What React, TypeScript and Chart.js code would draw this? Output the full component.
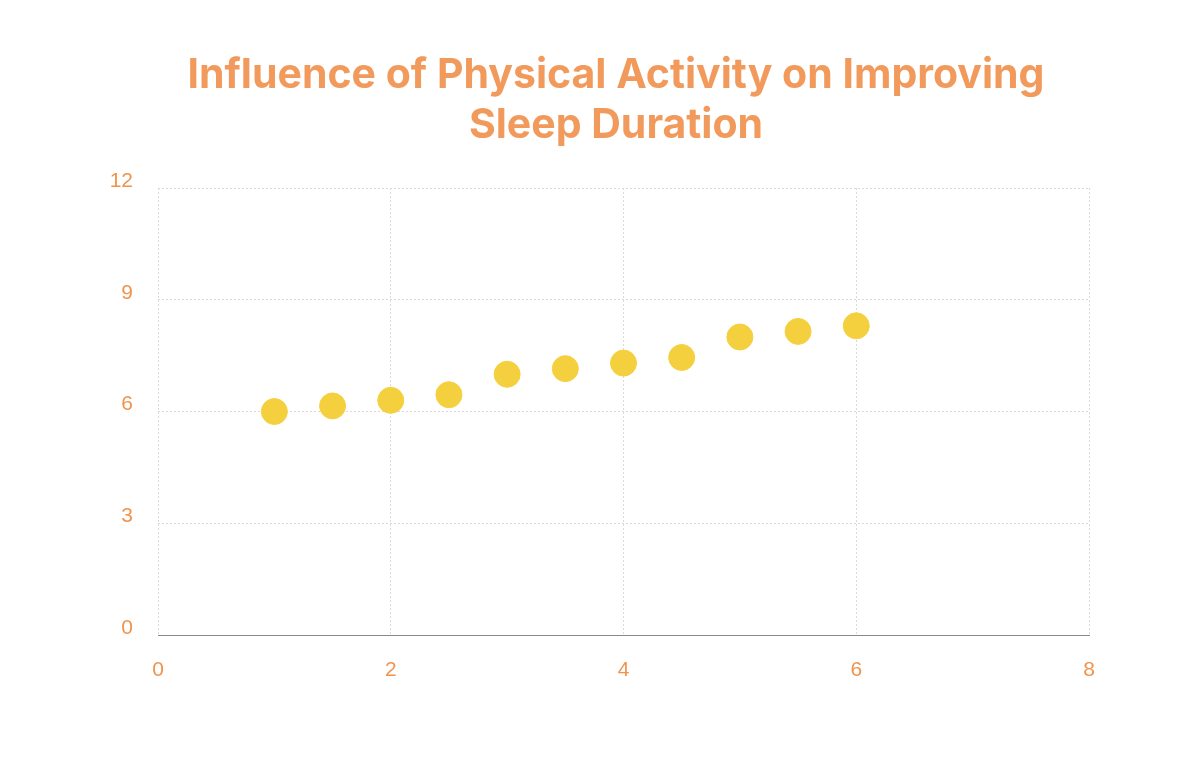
import React, { useEffect, useRef } from "react";
import { Chart, registerables } from "chart.js";

Chart.register(...registerables);

const titleLines = ["Influence of Physical Activity on Improving", "Sleep Duration"];
const activityHours = [1, 1.5, 2, 2.5, 3, 3.5, 4, 4.5, 5, 5.5, 6];
const sleepHours = [6, 6.15, 6.3, 6.45, 7, 7.15, 7.3, 7.45, 8, 8.15, 8.3];
const xRange = [0, 8];
const yRange = [0, 12];

const ORANGE_TITLE = "#F29A5B";
const ORANGE_TICK = "#F0944D";
const POINT = "#F5D03E";
const GRID = "#DADADA";

const titlePlugin = {
  id: "customTitle",
  afterDraw(chart: any) {
    const ctx = chart.ctx;
    ctx.save();
    ctx.fillStyle = ORANGE_TITLE;
    ctx.font = "bold 41px Inter, 'Noto Sans', sans-serif";
    ctx.textAlign = "center";
    ctx.textBaseline = "alphabetic";
    const cx = 616;
    const baselines = [88, 138];
    titleLines.forEach((t, i) => ctx.fillText(t, cx, baselines[i]));
    ctx.restore();
  },
};

export default function App() {
  const ref = useRef<HTMLCanvasElement | null>(null);
  useEffect(() => {
    if (!ref.current) return;
    const chart = new Chart(ref.current, {
      type: "scatter",
      data: {
        datasets: [
          {
            label: "Sleep Duration",
            data: activityHours.map((x, i) => ({ x, y: sleepHours[i] })),
            backgroundColor: POINT,
            borderColor: POINT,
            borderWidth: 1,
            pointRadius: 13,
            pointHoverRadius: 13,
          },
        ],
      },
      options: {
        responsive: false,
        animation: false,
        devicePixelRatio: 1,
        layout: { padding: { left: 0, right: 111, top: 188, bottom: 0 } },
        plugins: {
          legend: { display: false },
          tooltip: { enabled: false },
          title: { display: false },
        },
        scales: {
          x: {
            type: "linear",
            min: xRange[0],
            max: xRange[1],
            afterFit: (s: any) => {
              s.height = 136;
            },
            ticks: {
              stepSize: 2,
              color: ORANGE_TICK,
              padding: 23,
              font: { family: "'Liberation Sans', Arial, sans-serif", size: 21 },
            },
            grid: { color: GRID, drawTicks: false, lineWidth: 1 },
            border: { display: true, color: "#8A8A8A", width: 1, dash: [2, 2] },
          },
          y: {
            type: "linear",
            min: yRange[0],
            max: yRange[1],
            afterFit: (s: any) => {
              s.width = 158;
            },
            ticks: {
              stepSize: 3,
              color: ORANGE_TICK,
              padding: 25,
              labelOffset: -7,
              font: { family: "'Liberation Sans', Arial, sans-serif", size: 21 },
            },
            grid: { color: GRID, drawTicks: false, lineWidth: 1 },
            border: { display: false, dash: [2, 2] },
          },
        },
      },
      plugins: [titlePlugin],
    });
    return () => chart.destroy();
  }, []);
  return (
    <div style={{ position: "absolute", left: 0, top: 0, width: 1200, height: 771, background: "#fff" }}>
      <canvas ref={ref} width={1200} height={771} style={{ width: 1200, height: 771, display: "block" }} />
    </div>
  );
}
